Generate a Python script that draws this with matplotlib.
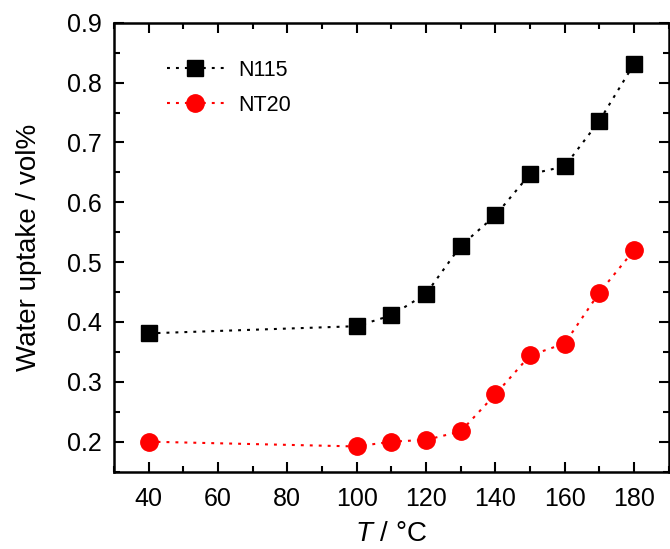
import matplotlib
matplotlib.use("Agg")
import matplotlib.pyplot as plt
from matplotlib.ticker import MultipleLocator

plt.rcParams['font.family'] = ['Liberation Sans', 'DejaVu Sans']
plt.rcParams['mathtext.fontset'] = 'custom'
plt.rcParams['mathtext.it'] = 'Liberation Sans:italic'
plt.rcParams['mathtext.rm'] = 'Liberation Sans'

temperature = [40, 100, 110, 120, 130, 140, 150, 160, 170, 180]
n115 = [0.381, 0.393, 0.411, 0.447, 0.527, 0.578, 0.647, 0.660, 0.736, 0.831]
nt20 = [0.200, 0.192, 0.200, 0.203, 0.217, 0.279, 0.344, 0.364, 0.449, 0.520]

fig = plt.figure(figsize=(6.7, 5.49), dpi=100)
ax = fig.add_axes([0.170, 0.141, 0.828, 0.8175])

dots = (0, (1.4, 2.9))
ax.plot(temperature, n115, linestyle=dots, color='black', linewidth=1.5,
        marker='s', markersize=11.5, label='N115')
ax.plot(temperature, nt20, linestyle=dots, color='#ff0000', linewidth=1.5,
        marker='o', markersize=12.5, label='NT20')

ax.set_xlim(30, 190)
ax.set_ylim(0.15, 0.9)
ax.xaxis.set_major_locator(MultipleLocator(20))
ax.xaxis.set_minor_locator(MultipleLocator(10))
ax.yaxis.set_minor_locator(MultipleLocator(0.05))
ax.set_yticks([0.2, 0.3, 0.4, 0.5, 0.6, 0.7, 0.8, 0.9])
ax.set_yticklabels(['0.2', '0.3', '0.4', '0.5', '0.6', '0.7', '0.8', '0.9'])

ax.tick_params(which='both', direction='in', top=True, right=True,
               labelsize=18, width=1.5)
ax.tick_params(axis='x', which='both', pad=11)
ax.tick_params(axis='y', which='both', pad=9)
ax.tick_params(which='major', length=7)
ax.tick_params(which='minor', length=4)
for s in ax.spines.values():
    s.set_linewidth(1.8)

ax.set_xlabel(r'$T$ / °C', fontsize=20, labelpad=7)
ax.set_ylabel('Water uptake / vol%', fontsize=20, labelpad=18)

ax.legend(loc='upper left', frameon=False, fontsize=15.5, handlelength=2.65,
          bbox_to_anchor=(0.08, 0.937), labelspacing=0.65, handletextpad=0.65,
          borderaxespad=0.0)

fig.savefig('out.png', dpi=100)
